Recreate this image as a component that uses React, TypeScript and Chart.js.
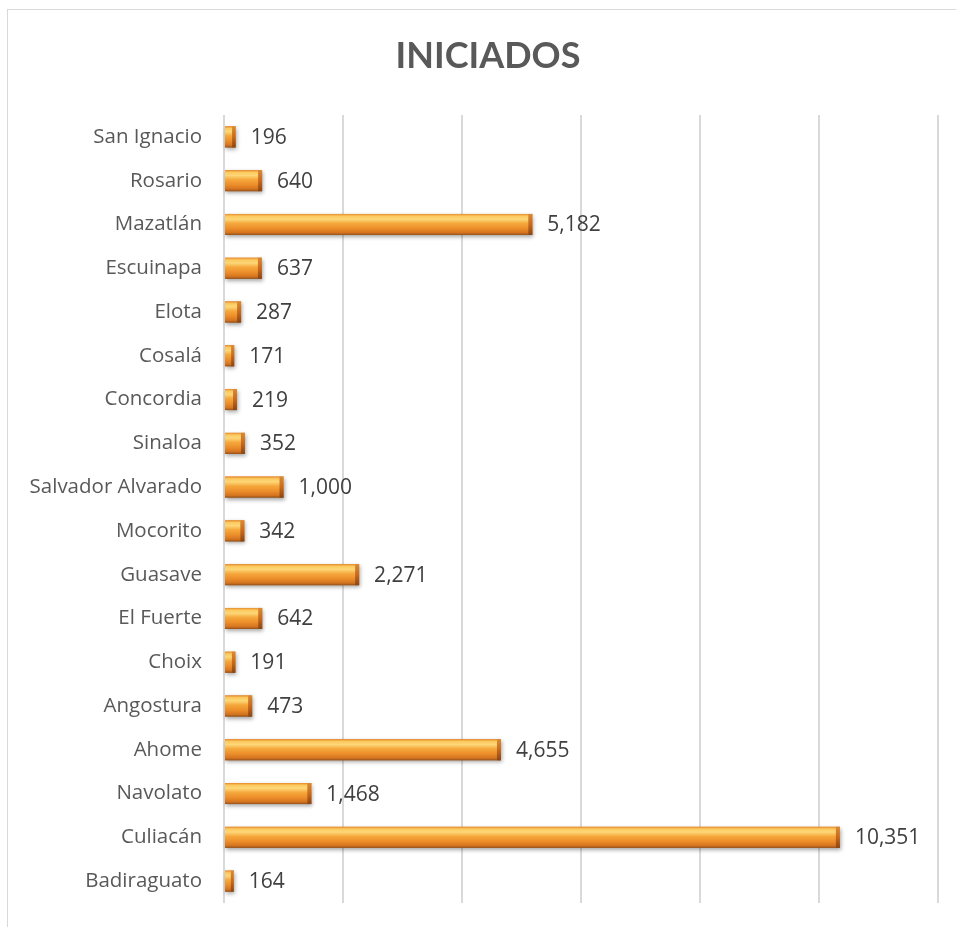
import React, { useEffect, useRef } from "react";
import { Chart, registerables } from "chart.js";

Chart.register(...registerables);

const categories = [
  "San Ignacio",
  "Rosario",
  "Mazatlán",
  "Escuinapa",
  "Elota",
  "Cosalá",
  "Concordia",
  "Sinaloa",
  "Salvador Alvarado",
  "Mocorito",
  "Guasave",
  "El Fuerte",
  "Choix",
  "Angostura",
  "Ahome",
  "Navolato",
  "Culiacán",
  "Badiraguato",
];

const values = [196, 640, 5182, 637, 287, 171, 219, 352, 1000, 342, 2271, 642, 191, 473, 4655, 1468, 10351, 164];

const xMin = 0;
const xMax = 12000;
const xStep = 2000;
const titleText = "INICIADOS";

const fmt = (v: number) => v.toLocaleString("en-US");

const titleShift = {
  id: "titleShift",
  afterLayout(chart: any) {
    if (chart.titleBlock) {
      chart.titleBlock.left = 30;
    }
  },
};

const bevelBars = {
  id: "bevelBars",
  afterDatasetsDraw(chart: any) {
    const ctx = chart.ctx as CanvasRenderingContext2D;
    const meta = chart.getDatasetMeta(0);
    meta.data.forEach((el: any, i: number) => {
      const { x, y, base, height } = el.getProps(["x", "y", "base", "height"], true);
      const top = y - height / 2;
      const left = base;
      const w = x - base;
      ctx.save();
      ctx.shadowColor = "rgba(0,0,0,0.35)";
      ctx.shadowBlur = 4;
      ctx.shadowOffsetX = 1;
      ctx.shadowOffsetY = 2;
      const g = ctx.createLinearGradient(0, top, 0, top + height);
      g.addColorStop(0, "#e8892a");
      g.addColorStop(0.1, "#fbc95e");
      g.addColorStop(0.25, "#fdd778");
      g.addColorStop(0.45, "#f5a83c");
      g.addColorStop(0.7, "#ec8d2a");
      g.addColorStop(0.9, "#d3731f");
      g.addColorStop(1, "#94501a");
      ctx.fillStyle = g;
      ctx.fillRect(left, top, w, height);
      ctx.restore();
      const bw = Math.min(4, w / 3);
      ctx.save();
      const g2 = ctx.createLinearGradient(0, top, 0, top + height);
      g2.addColorStop(0, "#d98a34");
      g2.addColorStop(0.5, "#c8691d");
      g2.addColorStop(1, "#8a4614");
      ctx.fillStyle = g2;
      ctx.fillRect(x - bw, top, bw, height);
      ctx.restore();
      ctx.save();
      ctx.font = "21px 'Open Sans'";
      ctx.fillStyle = "#404040";
      ctx.textAlign = "left";
      ctx.textBaseline = "middle";
      ctx.fillText(fmt(values[i]), x + 15, y + 1);
      ctx.restore();
    });
  },
};

export default function App() {
  const ref = useRef<HTMLCanvasElement | null>(null);

  useEffect(() => {
    if (!ref.current) return;
    const chart = new Chart(ref.current, {
      type: "bar",
      data: {
        labels: categories,
        datasets: [
          {
            data: values,
            backgroundColor: "#ee9030",
            borderWidth: 0,
            categoryPercentage: 1,
            barPercentage: 0.48,
          },
        ],
      },
      options: {
        indexAxis: "y",
        animation: false,
        responsive: true,
        maintainAspectRatio: false,
        layout: { padding: { left: 0, right: 18, top: 0, bottom: 24 } },
        plugins: {
          legend: { display: false },
          tooltip: { enabled: false },
          title: {
            display: true,
            text: titleText,
            color: "#595959",
            font: { family: "Lato", size: 36, weight: "bold" },
            padding: { top: 25, bottom: 36.8 },
          },
        },
        scales: {
          x: {
            min: xMin,
            max: xMax,
            ticks: { stepSize: xStep, display: false },
            grid: { color: "#d9d9d9", lineWidth: 2, drawTicks: false },
            border: { display: false },
            afterFit: (s: any) => {
              s.height = 0;
              s.paddingLeft = 0;
              s.paddingRight = 0;
            },
          },
          y: {
            grid: { display: false, drawTicks: false },
            border: { display: false },
            ticks: {
              color: "#595959",
              font: { family: "'Open Sans'", size: 20.5 },
              padding: 22,
            },
            afterFit: (s: any) => {
              s.width = 216;
              s.paddingTop = 0;
              s.paddingBottom = 0;
            },
          },
        },
      },
      plugins: [titleShift, bevelBars],
    });
    return () => chart.destroy();
  }, []);

  return (
    <div
      style={{
        position: "fixed",
        left: 7,
        top: 9,
        width: 949,
        height: 918,
        borderLeft: "1px solid #d9d9d9",
        borderTop: "1px solid #d9d9d9",
        boxSizing: "border-box",
        background: "#fff",
      }}
    >
      <div style={{ position: "relative", width: 948, height: 917 }}>
        <canvas ref={ref} />
      </div>
    </div>
  );
}
